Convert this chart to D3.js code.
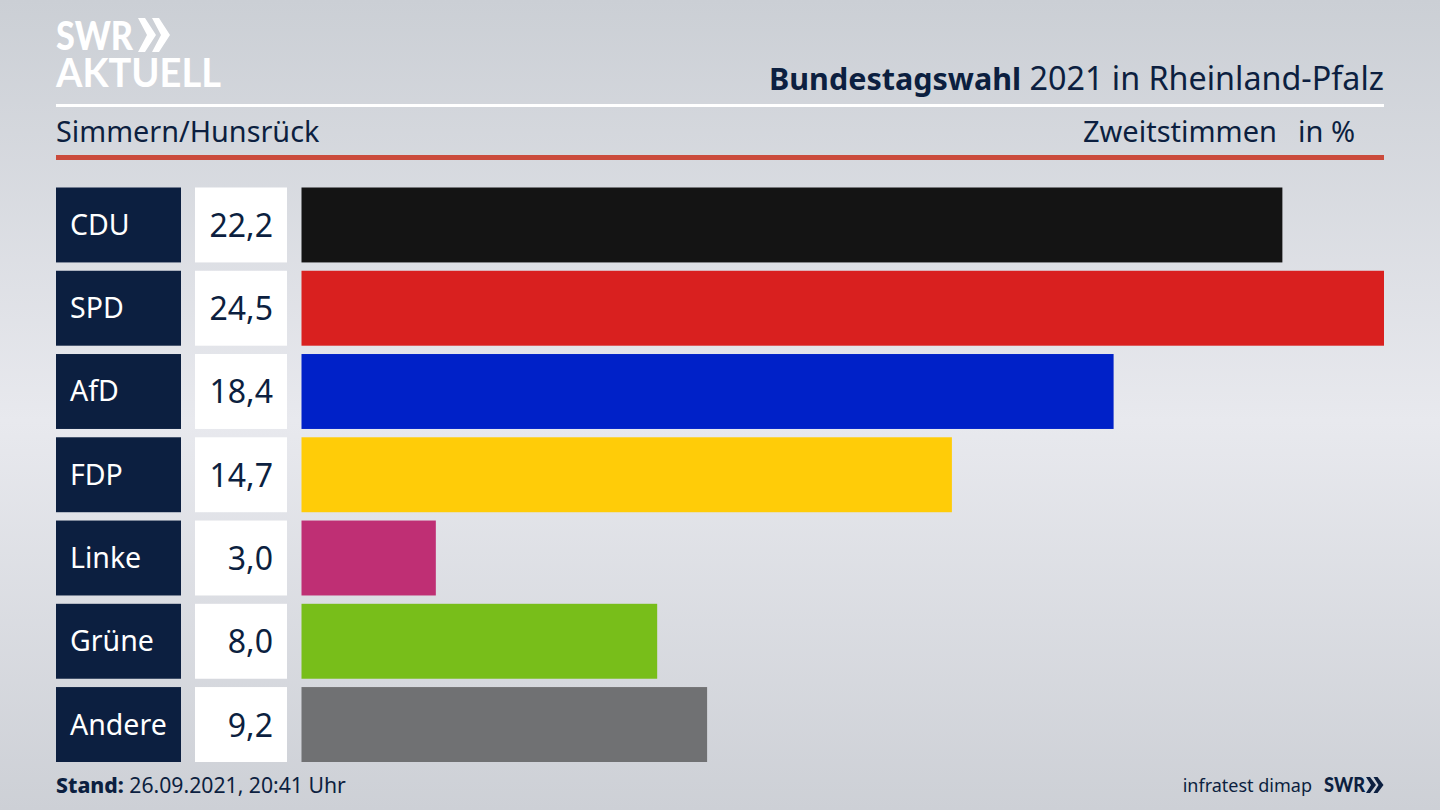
<!DOCTYPE html>
<html lang="de">
<head>
<meta charset="utf-8">
<title>Bundestagswahl 2021 in Rheinland-Pfalz</title>
<script src="https://cdn.jsdelivr.net/npm/d3@7"></script>
<style>
  html, body { margin: 0; padding: 0; background: #d8dbe1; }
  svg { display: block; font-family: "Noto Sans", sans-serif; }
</style>
</head>
<body>
<svg id="chart" width="1440" height="810"></svg>
<script>
const parties = ["CDU", "SPD", "AfD", "FDP", "Linke", "Grüne", "Andere"];
const labels = ["22,2", "24,5", "18,4", "14,7", "3,0", "8,0", "9,2"];
// bar lengths (slightly finer than the printed labels)
const shares = [22.2, 24.5, 18.38, 14.72, 3.04, 8.05, 9.18];
const barColors = ["#141414", "#d9201f", "#0021c8", "#ffcc08", "#bf2f74", "#78be1a", "#707173"];

const navy = "#0c1f40";
const svg = d3.select("#chart");

// background gradient
const defs = svg.append("defs");
const bg = defs.append("linearGradient")
  .attr("id", "bg").attr("x1", 0).attr("y1", 0).attr("x2", 0).attr("y2", 1);
bg.append("stop").attr("offset", "0%").attr("stop-color", "#cbcfd5");
bg.append("stop").attr("offset", "52%").attr("stop-color", "#e8e9ee");
bg.append("stop").attr("offset", "100%").attr("stop-color", "#cdd0d6");
svg.append("rect").attr("width", 1440).attr("height", 810).attr("fill", "url(#bg)");

// scales
const x = d3.scaleLinear().domain([0, 24.5]).range([301.5, 1384]);
const y = d3.scaleBand().domain(parties).range([187.5, 762]).paddingInner(0.1);

// header
const logo = svg.append("g").attr("fill", "#fff");
logo.append("text").attr("x", 56).attr("y", 50).attr("font-size", 40)
  .attr("font-weight", 900).attr("font-family", "Lato, sans-serif")
  .attr("textLength", 77).attr("lengthAdjust", "spacingAndGlyphs").text("SWR");
logo.append("path").attr("d", "M138 18h7l11 17-11 17h-7l9-17z");
logo.append("path").attr("d", "M152 18h7l11 17-11 17h-7l9-17z");
logo.append("text").attr("x", 56).attr("y", 87).attr("font-size", 41)
  .attr("font-weight", 700).attr("font-family", "Lato, sans-serif")
  .attr("textLength", 165).attr("lengthAdjust", "spacingAndGlyphs").text("AKTUELL");

const title = svg.append("text").attr("x", 1384).attr("y", 90)
  .attr("text-anchor", "end").attr("font-size", 32.3).attr("fill", navy);
title.append("tspan").attr("font-weight", 700).attr("font-size", 30.5).text("Bundestagswahl");
title.append("tspan").text(" 2021 in Rheinland-Pfalz");

svg.append("rect").attr("x", 56).attr("y", 104).attr("width", 1328).attr("height", 3).attr("fill", "#fff");
svg.append("rect").attr("x", 56).attr("y", 155).attr("width", 1328).attr("height", 5).attr("fill", "#cb4b3c");

svg.append("text").attr("x", 56).attr("y", 142).attr("font-size", 28.8).attr("fill", navy).text("Simmern/Hunsrück");
svg.append("text").attr("x", 1277).attr("y", 142).attr("text-anchor", "end").attr("font-size", 29).attr("fill", navy).text("Zweitstimmen");
svg.append("text").attr("x", 1355).attr("y", 142).attr("text-anchor", "end").attr("font-size", 29).attr("fill", navy).text("in %");

// rows
const rows = svg.append("g").selectAll("g").data(parties).join("g")
  .attr("transform", d => `translate(0,${y(d)})`);

rows.append("rect").attr("x", 56).attr("width", 125).attr("height", y.bandwidth()).attr("fill", navy);
rows.append("text").attr("x", 70).attr("y", y.bandwidth() / 2 + 10)
  .attr("font-size", 28.5).attr("fill", "#fff").text(d => d);

rows.append("rect").attr("x", 195).attr("width", 92).attr("height", y.bandwidth()).attr("fill", "#fff");
rows.append("text").attr("x", 273).attr("y", y.bandwidth() / 2 + 12)
  .attr("text-anchor", "end").attr("font-size", 32).attr("fill", navy)
  .text((d, i) => labels[i]);

rows.append("rect").attr("x", x(0)).attr("height", y.bandwidth())
  .attr("width", (d, i) => x(shares[i]) - x(0))
  .attr("fill", (d, i) => barColors[i]);

// footer
const stand = svg.append("text").attr("x", 56).attr("y", 793).attr("font-size", 21.2).attr("fill", navy);
stand.append("tspan").attr("font-weight", 800).text("Stand:");
stand.append("tspan").text(" 26.09.2021, 20:41 Uhr");

svg.append("text").attr("x", 1312).attr("y", 792).attr("text-anchor", "end")
  .attr("font-size", 18).attr("fill", navy).text("infratest dimap");
svg.append("text").attr("x", 1324).attr("y", 792).attr("font-size", 21)
  .attr("font-weight", 900).attr("font-family", "Lato, sans-serif").attr("fill", navy)
  .attr("textLength", 41).attr("lengthAdjust", "spacingAndGlyphs").text("SWR");
svg.append("path").attr("fill", navy).attr("d", "M1366 777h4l6 8-6 8h-4l5-8z");
svg.append("path").attr("fill", navy).attr("d", "M1373.500 777h4l6 8-6 8h-4l5-8z");
</script>
</body>
</html>
